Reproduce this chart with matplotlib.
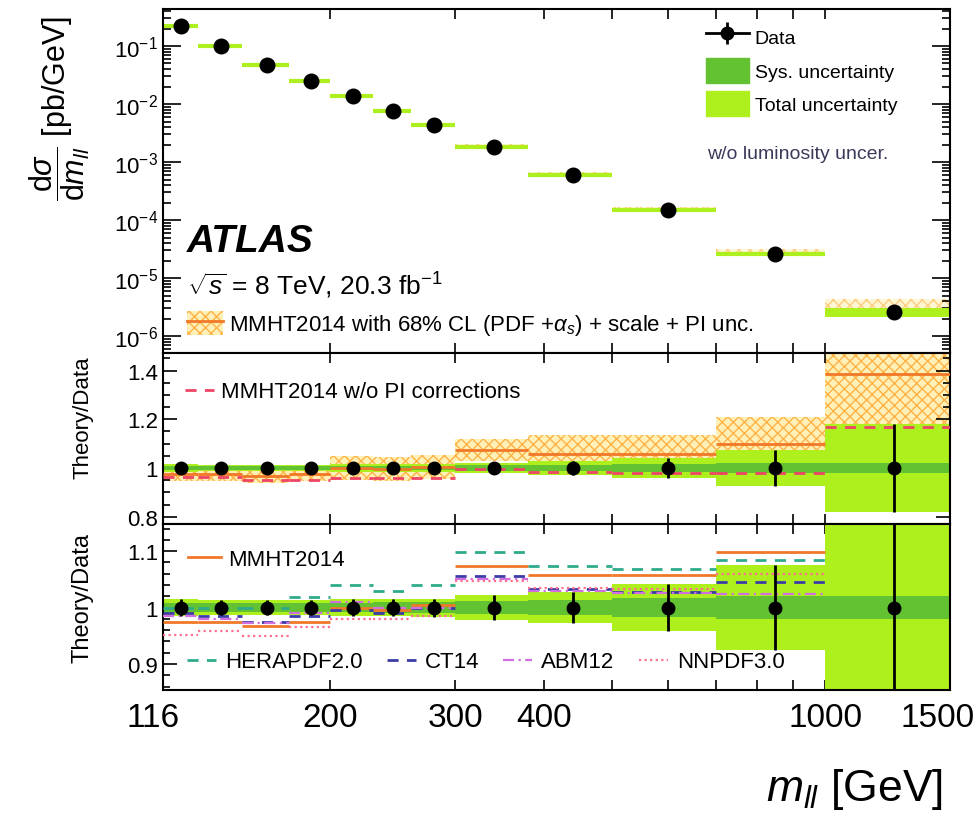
import numpy as np
import matplotlib
matplotlib.use('Agg')
import matplotlib.pyplot as plt
from matplotlib.lines import Line2D
from matplotlib.patches import Patch
from matplotlib.ticker import FixedLocator, FuncFormatter, NullFormatter, LogLocator, MultipleLocator
from matplotlib.transforms import ScaledTranslation

plt.rcParams['font.family'] = ['Liberation Sans', 'DejaVu Sans']
plt.rcParams['mathtext.fontset'] = 'custom'
plt.rcParams['mathtext.rm'] = 'Liberation Sans'
plt.rcParams['mathtext.it'] = 'Liberation Sans:italic'
plt.rcParams['mathtext.bf'] = 'Liberation Sans:bold'
plt.rcParams['hatch.linewidth'] = 1.0

# ---- data ----
edges = np.array([116, 130, 150, 175, 200, 230, 260, 300, 380, 500, 700, 1000, 1500], dtype=float)
xsec = np.array([0.221, 0.100, 0.047, 0.0249, 0.0137, 0.0076, 0.00435, 0.00181,
                 5.97e-4, 1.49e-4, 2.6e-5, 2.6e-6])
tot_unc = np.array([0.015, 0.014, 0.014, 0.014, 0.015, 0.015, 0.016, 0.022, 0.027, 0.042, 0.075, 0.18])
sys_unc = np.array([0.008, 0.008, 0.008, 0.008, 0.008, 0.009, 0.010, 0.012, 0.014, 0.017, 0.020, 0.020])

mmht      = np.array([0.975, 0.975, 0.968, 0.975, 1.000, 0.995, 1.005, 1.074, 1.057, 1.057, 1.098, 1.386])
mmht_unc  = np.array([0.030, 0.030, 0.030, 0.030, 0.050, 0.050, 0.050, 0.045, 0.080, 0.080, 0.110, 0.210])
mmht_nopi = np.array([0.965, 0.965, 0.950, 0.950, 0.960, 0.960, 0.960, 0.995, 0.985, 0.980, 0.980, 1.170])
hera  = np.array([1.000, 1.000, 1.000, 1.019, 1.040, 1.030, 1.040, 1.099, 1.073, 1.068, 1.085, 1.250])
ct14  = np.array([0.990, 0.985, 0.975, 0.985, 0.995, 0.990, 1.000, 1.056, 1.033, 1.028, 1.045, 1.220])
abm12 = np.array([0.985, 0.980, 0.972, 0.990, 1.010, 1.000, 1.000, 1.050, 1.030, 1.025, 1.024, 1.200])
nnpdf = np.array([0.952, 0.958, 0.950, 0.966, 0.980, 0.980, 0.985, 1.047, 1.035, 1.032, 1.059, 1.300])

xticks = [116, 200, 300, 400, 1000, 1500]

lo = edges[:-1]; hi = edges[1:]
centers = 0.5 * (lo + hi)

# ---- colours ----
c_tot = '#aef01e'
c_sys = '#62c232'
c_thf = '#fff0b8'
c_thh = '#ffb347'
c_mmht = '#f07828'
c_nopi = '#ee4466'
c_hera = '#2faa8a'
c_ct14 = '#3c3ca8'
c_abm = '#d070e0'
c_nnpdf = '#ff7090'

W, H = 979, 820
fig = plt.figure(figsize=(W / 100, H / 100), dpi=100)

def fx(x): return x / W
def fy(y): return 1 - y / H

L, R = 163, 950
ax1 = fig.add_axes([fx(L), fy(354), fx(R) - fx(L), fy(10) - fy(354)])
ax2 = fig.add_axes([fx(L), fy(525), fx(R) - fx(L), fy(354) - fy(525)], sharex=ax1)
ax3 = fig.add_axes([fx(L), fy(691), fx(R) - fx(L), fy(525) - fy(691)], sharex=ax1)

# ---- top panel ----
ax1.set_xscale('log')
ax1.set_yscale('log')
th = xsec * mmht
ax1.stairs(th * (1 + mmht_unc), edges, baseline=th * (1 - mmht_unc), fill=True,
           facecolor=c_thf, edgecolor=c_thh, hatch='xxx', lw=0, zorder=1, alpha=0.6)
ax1.stairs(xsec * (1 + tot_unc), edges, baseline=xsec * (1 - tot_unc), fill=True, color=c_tot, lw=0, zorder=2)
ax1.hlines(xsec, lo, hi, color=c_tot, lw=3, zorder=2)
ax1.plot(centers, xsec, 'o', color='k', ms=10.5, zorder=5)
ax1.set_ylim(10 ** -6.29, 10 ** -0.362)

# ---- ratio panels ----
def ratio_bands(ax):
    ax.stairs(1 + tot_unc, edges, baseline=1 - tot_unc, fill=True, color=c_tot, lw=0, zorder=2)
    ax.stairs(1 + sys_unc, edges, baseline=1 - sys_unc, fill=True, color=c_sys, lw=0, zorder=2)
    ax.errorbar(centers, np.ones_like(centers), yerr=tot_unc, fmt='o', color='k',
                ms=9, elinewidth=2, capsize=0, zorder=6)

ax2.stairs(mmht + mmht_unc, edges, baseline=mmht - mmht_unc, fill=True,
           facecolor=c_thf, edgecolor=c_thh, hatch='xxx', lw=0, zorder=1)
ratio_bands(ax2)
ax2.hlines(mmht, lo, hi, color=c_mmht, lw=2, zorder=4)
ax2.hlines(mmht_nopi, lo, hi, color=c_nopi, lw=2, linestyles=(0, (4, 3)), zorder=4)
ax2.set_ylim(0.77, 1.472)

ratio_bands(ax3)
ax3.hlines(mmht, lo, hi, color=c_mmht, lw=2, zorder=4)
ax3.hlines(hera, lo, hi, color=c_hera, lw=2, linestyles=(0, (4, 3)), zorder=4)
ax3.hlines(ct14, lo, hi, color=c_ct14, lw=2, linestyles=(0, (4, 3)), zorder=4)
ax3.hlines(abm12, lo, hi, color=c_abm, lw=1.6, linestyles=(0, (5, 2, 1, 2)), zorder=4)
ax3.hlines(nnpdf, lo, hi, color=c_nnpdf, lw=1.6, linestyles=(0, (1, 1.5)), zorder=4)
ax3.set_ylim(0.854, 1.148)

# ---- axes styling ----
for ax in (ax1, ax2, ax3):
    for s in ax.spines.values():
        s.set_linewidth(1.5)
    ax.tick_params(which='both', direction='in', top=True, right=True, width=1.2, labelsize=16)
    ax.tick_params(which='major', length=10)
    ax.tick_params(which='minor', length=5)

ax1.set_xlim(116, 1500)
ax3.xaxis.set_major_locator(FixedLocator(xticks))
ax3.xaxis.set_minor_locator(FixedLocator([500, 600, 700, 800, 900]))
ax3.xaxis.set_major_formatter(FuncFormatter(lambda v, p: '%d' % v))
ax3.xaxis.set_minor_formatter(NullFormatter())
for ax in (ax1, ax2, ax3):
    ax.tick_params(axis='x', which='both', length=7)
for ax in (ax1, ax2):
    ax.tick_params(axis='x', labelbottom=False)
ax3.tick_params(axis='x', labelsize=24, pad=9)

ax1.yaxis.set_major_locator(LogLocator(base=10, numticks=20))
ax1.yaxis.set_minor_locator(LogLocator(base=10, subs=np.arange(2, 10), numticks=20))
ax1.yaxis.set_minor_formatter(NullFormatter())
ax1.tick_params(axis='y', which='major', length=13)
ax1.tick_params(axis='y', which='minor', length=6)

ax2.yaxis.set_major_locator(MultipleLocator(0.2))
ax2.yaxis.set_minor_locator(MultipleLocator(0.05))
ax2.yaxis.set_major_formatter(FuncFormatter(lambda v, p: '%g' % round(v, 2)))
ax3.yaxis.set_major_locator(MultipleLocator(0.1))
ax3.yaxis.set_minor_locator(MultipleLocator(0.02))
ax3.yaxis.set_major_formatter(FuncFormatter(lambda v, p: '%g' % round(v, 2)))

fig.canvas.draw()
labs = ax3.get_xticklabels()
labs[0].set_transform(labs[0].get_transform() + ScaledTranslation(-10 / 100, 0, fig.dpi_scale_trans))
labs[-1].set_transform(labs[-1].get_transform() + ScaledTranslation(-12 / 100, 0, fig.dpi_scale_trans))

# ---- labels ----
fig.text(fx(60), fy(108), r'$\dfrac{\mathrm{d}\sigma}{\mathrm{d}m_{ll}}$ [pb/GeV]', rotation=90,
         ha='center', va='center', fontsize=22)
fig.text(fx(83), fy(418), 'Theory/Data', rotation=90, ha='center', va='center', fontsize=16)
fig.text(fx(83), fy(598), 'Theory/Data', rotation=90, ha='center', va='center', fontsize=17)
fig.text(fx(943), fy(790), r'$m_{ll}$ [GeV]', ha='right', va='center', fontsize=32)

fig.text(fx(187), fy(252), 'ATLAS', fontsize=28, fontweight='bold', fontstyle='italic', va='baseline')
fig.text(fx(187), fy(295), r'$\sqrt{s}$ = 8 TeV, 20.3 fb$^{-1}$', fontsize=19, va='baseline')
fig.text(fx(707), fy(155), 'w/o luminosity uncer.', fontsize=14, color='#3a3a5a', va='center')

# ---- legends ----
h_data = (Line2D([], [], color='k', lw=2, marker='o', ms=9),
          Line2D([], [], color='k', lw=0, marker='|', ms=16, mew=2))
leg1 = ax1.legend([h_data, Patch(color=c_sys), Patch(color=c_tot)],
                  ['Data', 'Sys. uncertainty', 'Total uncertainty'],
                  loc='upper left', bbox_to_anchor=(fx(706), fy(25)), bbox_transform=fig.transFigure,
                  frameon=False, fontsize=14, borderpad=0, borderaxespad=0,
                  handlelength=2.2, handleheight=1.6, labelspacing=0.45, handletextpad=0.3)
ax1.add_artist(leg1)
h_th = (Patch(facecolor=c_thf, edgecolor=c_thh, hatch='xxx', lw=0), Line2D([], [], color=c_mmht, lw=2))
ax1.legend([h_th], [r'MMHT2014 with 68% CL (PDF +$\alpha_{s}$) + scale + PI unc.'],
           loc='center left', bbox_to_anchor=(fx(187), fy(325)), bbox_transform=fig.transFigure,
           frameon=False, fontsize=16, borderpad=0, borderaxespad=0,
           handlelength=1.6, handleheight=1.3, handletextpad=0.3)

ax2.legend([Line2D([], [], color=c_nopi, lw=2, ls=(0, (4, 3)))], ['MMHT2014 w/o PI corrections'],
           loc='center left', bbox_to_anchor=(fx(185), fy(393)), bbox_transform=fig.transFigure,
           frameon=False, fontsize=16, borderpad=0, borderaxespad=0,
           handlelength=1.3, handletextpad=0.3)

leg3 = ax3.legend([Line2D([], [], color=c_mmht, lw=2)], ['MMHT2014'],
                  loc='center left', bbox_to_anchor=(fx(188), fy(560)), bbox_transform=fig.transFigure,
                  frameon=False, fontsize=16, borderpad=0, borderaxespad=0,
                  handlelength=1.5, handletextpad=0.3)
ax3.add_artist(leg3)
ax3.legend([Line2D([], [], color=c_hera, lw=2, ls=(0, (4, 3))),
            Line2D([], [], color=c_ct14, lw=2, ls=(0, (4, 3))),
            Line2D([], [], color=c_abm, lw=1.6, ls=(0, (5, 2, 1, 2))),
            Line2D([], [], color=c_nnpdf, lw=1.6, ls=(0, (1, 1.5)))],
           ['HERAPDF2.0', 'CT14', 'ABM12', 'NNPDF3.0'], ncol=4,
           loc='center left', bbox_to_anchor=(fx(187), fy(663)), bbox_transform=fig.transFigure,
           frameon=False, fontsize=16, borderpad=0, borderaxespad=0,
           handlelength=1.3, handletextpad=0.4, columnspacing=1.1)

fig.savefig('out.png', dpi=100)
